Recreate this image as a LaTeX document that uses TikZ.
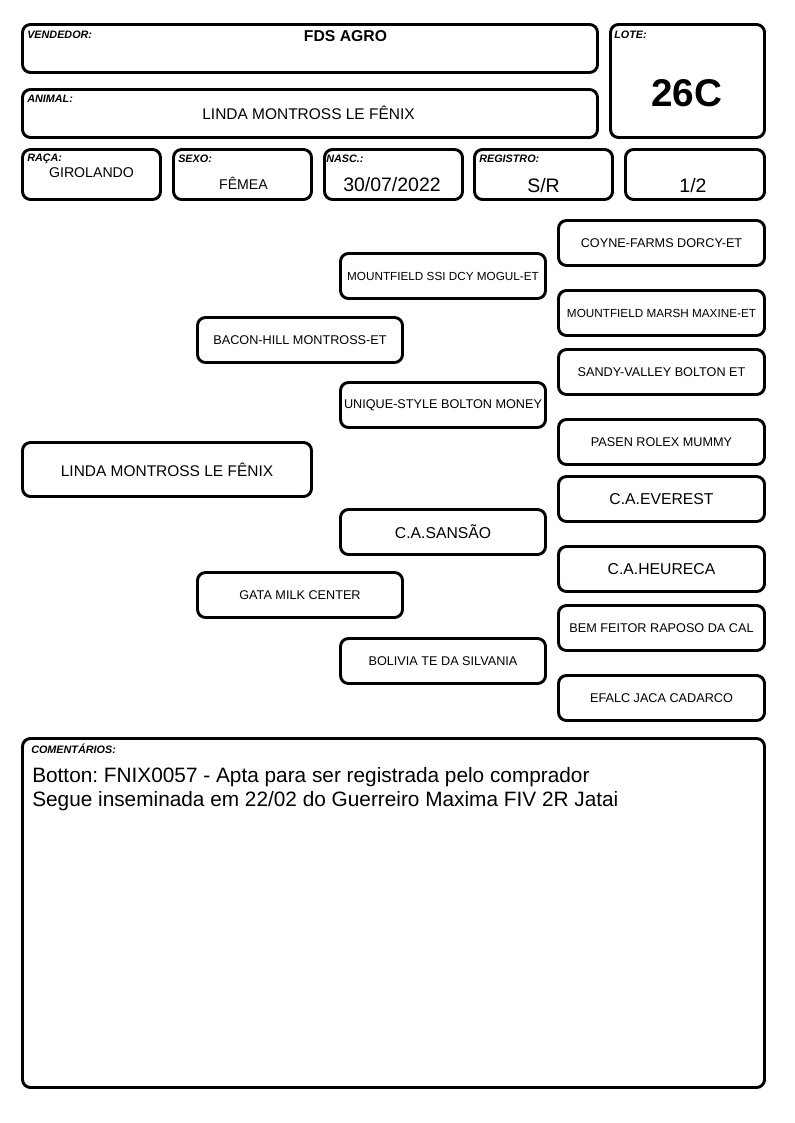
\documentclass[tikz,border=0pt]{standalone}
\usepackage{fontspec}
\setmainfont{Liberation Sans}
\usetikzlibrary{positioning}
\frenchspacing

\begin{document}
\begin{tikzpicture}[x=0.75pt, y=-0.75pt,
    every node/.style={inner sep=0pt},
    field/.style={draw, line width=2.2pt, rounded corners=6pt},
    caption/.style={anchor=base west, font=\fontsize{8.1}{9}\selectfont\bfseries\itshape},
    value/.style={anchor=base, font=\fontsize{10.6}{12}\selectfont},
    ped/.style={field, minimum width=205*0.75pt, minimum height=45*0.75pt, font=\fontsize{9.5}{11}\selectfont}]
    \useasboundingbox (0,0) rectangle (794,1123);

    % cabecalho
    \node[field, minimum width=575*0.75pt, minimum height=48*0.75pt] (vendedor) at (310,48.5) {};
    \node[caption] (vendedorlbl) at (27,39) {VENDEDOR:};
    \node[value, font=\fontsize{11.8}{14}\selectfont\bfseries] (vendedorval) at (345.5,42) {FDS AGRO};

    \node[field, minimum width=575*0.75pt, minimum height=48*0.75pt] (animal) at (310,113.5) {};
    \node[caption] (animallbl) at (27,103) {ANIMAL:};
    \node[value, font=\fontsize{11.6}{14}\selectfont] (animalval) at (308.5,120) {LINDA MONTROSS LE FÊNIX};

    \node[field, minimum width=154*0.75pt, minimum height=113*0.75pt] (lote) at (687.5,81) {};
    \node[caption] (lotelbl) at (614,39) {LOTE:};
    \node[value, font=\fontsize{29}{32}\selectfont\bfseries] (loteval) at (686.5,107) {26C};

    \node[field, minimum width=138*0.75pt, minimum height=50*0.75pt] (raca) at (91.5,174.5) {};
    \node[caption] (racalbl) at (27,162) {RAÇA:};
    \node[value] (racaval) at (91.5,178) {GIROLANDO};

    \node[field, minimum width=138*0.75pt, minimum height=50*0.75pt] (sexo) at (242.5,174.5) {};
    \node[caption] (sexolbl) at (178,163) {SEXO:};
    \node[value] (sexoval) at (243.5,190) {FÊMEA};

    \node[field, minimum width=138*0.75pt, minimum height=50*0.75pt] (nasc) at (393.5,174.5) {};
    \node[caption] (nasclbl) at (326,163) {NASC.:};
    \node[value, font=\fontsize{14.6}{16}\selectfont] (nascval) at (392,192) {30/07/2022};

    \node[field, minimum width=138*0.75pt, minimum height=50*0.75pt] (registro) at (543.5,174.5) {};
    \node[caption] (registrolbl) at (479,163) {REGISTRO:};
    \node[value, font=\fontsize{14.6}{16}\selectfont] (registroval) at (543.5,193) {S/R};

    \node[field, minimum width=139*0.75pt, minimum height=50*0.75pt] (parte) at (695,174.5) {};
    \node[value, font=\fontsize{14.6}{16}\selectfont] (parteval) at (693,193) {1/2};

    % genealogia
    \node[field, minimum width=289*0.75pt, minimum height=54*0.75pt, font=\fontsize{11.6}{14}\selectfont] (filha) at (167,469.5) {LINDA MONTROSS LE FÊNIX};

    \node[ped] (pai) at (300,340) {BACON-HILL MONTROSS-ET};
    \node[ped] (mae) at (300,595) {GATA MILK CENTER};

    \node[ped, font=\fontsize{8.8}{10}\selectfont] (avopp) at (443,276) {MOUNTFIELD SSI DCY MOGUL-ET};
    \node[ped] (avopm) at (443,405) {UNIQUE-STYLE BOLTON MONEY};
    \node[ped, font=\fontsize{11.8}{14}\selectfont] (avomp) at (443,532) {C.A.SANSÃO};
    \node[ped] (avomm) at (443,661) {BOLIVIA TE DA SILVANIA};

    \node[ped, minimum width=206*0.75pt] (bis1) at (661.5,243) {COYNE-FARMS DORCY-ET};
    \node[ped, minimum width=206*0.75pt, font=\fontsize{8.8}{10}\selectfont] (bis2) at (661.5,313) {MOUNTFIELD MARSH MAXINE-ET};
    \node[ped, minimum width=206*0.75pt] (bis3) at (661.5,372) {SANDY-VALLEY BOLTON ET};
    \node[ped, minimum width=206*0.75pt] (bis4) at (661.5,442) {PASEN ROLEX MUMMY};
    \node[ped, minimum width=206*0.75pt, font=\fontsize{11.8}{14}\selectfont] (bis5) at (661.5,499) {C.A.EVEREST};
    \node[ped, minimum width=206*0.75pt, font=\fontsize{11.8}{14}\selectfont] (bis6) at (661.5,569) {C.A.HEURECA};
    \node[ped, minimum width=206*0.75pt] (bis7) at (661.5,628) {BEM FEITOR RAPOSO DA CAL};
    \node[ped, minimum width=206*0.75pt] (bis8) at (661.5,698) {EFALC JACA CADARCO};

    % comentarios
    \node[field, minimum width=742*0.75pt, minimum height=349*0.75pt] (coment) at (393.5,913) {};
    \node[caption] (comentlbl) at (31,753) {COMENTÁRIOS:};
    \node[anchor=north west, align=left, font=\fontsize{15.6}{18}\selectfont] (comentval) at (32,767) {Botton: FNIX0057 - Apta para ser registrada pelo comprador\\Segue inseminada em 22/02 do Guerreiro Maxima FIV 2R Jatai};
\end{tikzpicture}
\end{document}
